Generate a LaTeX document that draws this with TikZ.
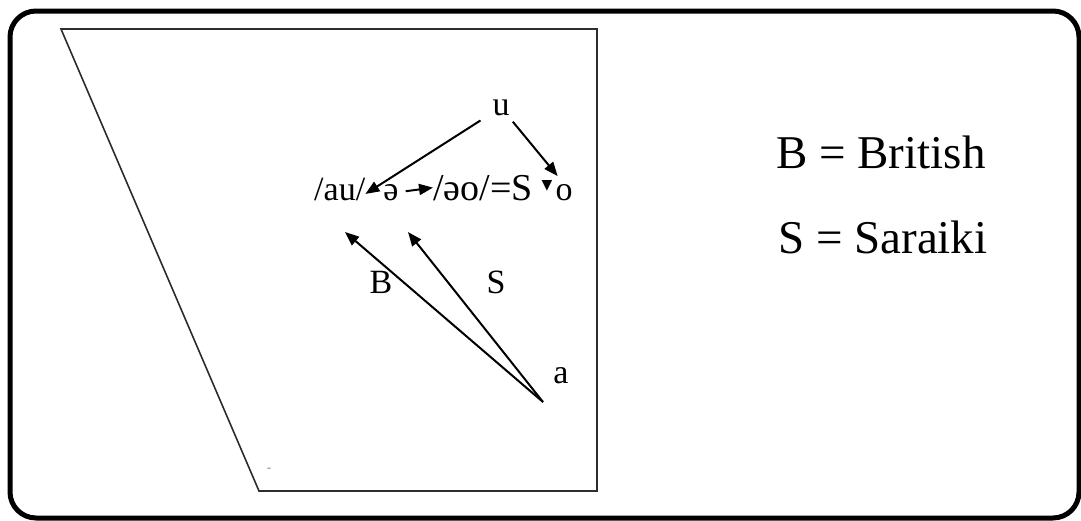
\documentclass[tikz,border=0pt]{standalone}
\usepackage{fontspec}
\setmainfont{Liberation Serif}
\newfontfamily\symfont{DejaVu Sans}
\usetikzlibrary{arrows.meta}
\definecolor{framegray}{RGB}{45,45,45}
\definecolor{dashgray}{RGB}{110,110,120}

\begin{document}
\begin{tikzpicture}[x=1pt, y=-1pt,
  lbl/.style={font=\fontsize{34}{38}\selectfont, inner sep=0pt, anchor=base},
  legend/.style={font=\fontsize{47}{52}\selectfont, inner sep=0pt, anchor=base west},
  arrow/.style={-{Triangle[length=14pt, width=11pt]}, line width=2pt}
]
\useasboundingbox (0,0) rectangle (1081,520);
% outer frame
\draw[line width=5pt, rounded corners=26pt] (10,11) rectangle (1079,518);
% vowel chart outline
\draw[line width=1.6pt, framegray] (61,29) -- (597,29) -- (597,491) -- (259,491) -- cycle;
\node[font=\fontsize{12}{14}\selectfont, text=dashgray, inner sep=0pt] (dash) at (269,470) {-};

% vowels
\node[lbl] (u) at (501,115) {u};
\node[lbl, anchor=base west] (au) at (314,200) {/au/};
\node[lbl] (schwa) at (391,200) {ə};
\node[lbl, anchor=base west, font=\fontsize{38}{42}\selectfont] (eo) at (433,200) {/əo/=S};
\node[inner sep=0pt, font=\symfont\fontsize{14}{16}\selectfont] (tri) at (547,186) {▼};
\node[lbl] (o) at (564,200) {o};
\node[lbl] (a) at (561,383) {a};
\node[lbl] (B) at (381,293) {B};
\node[lbl] (S) at (496,293) {S};

\coordinate (a0) at (543,402);
\coordinate (tipB) at (345,232);
\coordinate (tipS) at (408,232);

\draw[arrow, shorten <=14pt] (u) -- ([yshift=-5pt]au.east);
\draw[arrow, shorten <=8pt, shorten >=10pt] (u) -- (o.north);
\draw[arrow, shorten <=7pt] (schwa.east) -- (eo.west);
\draw[arrow] (a0) -- (tipB);
\draw[arrow] (a0) -- (tipS);

% key
\node[legend] (kB) at (776,168) {B = British};
\node[legend] (kS) at (778,253) {S = Saraiki};
\end{tikzpicture}
\end{document}
